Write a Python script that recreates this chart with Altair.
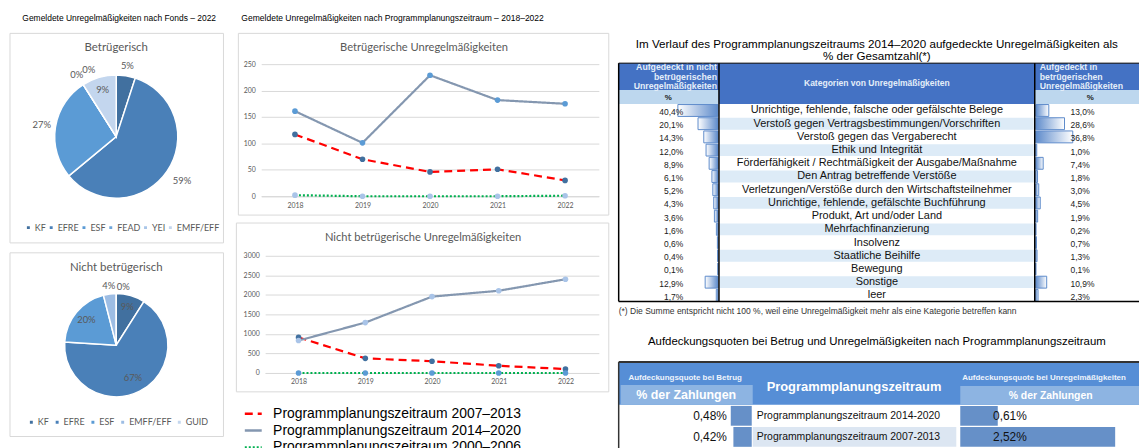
import altair as alt
import pandas as pd

# ---------------- data ----------------
fonds_betrug = ["KF", "EFRE", "ESF", "FEAD", "YEI", "EMFF/EFF"]
anteil_betrug = [5, 59, 27, 0, 0, 9]
fonds_nicht = ["KF", "EFRE", "ESF", "EMFF/EFF", "GUID"]
anteil_nicht = [9, 67, 20, 4, 0]

jahre = ["2018", "2019", "2020", "2021", "2022"]
zeitraum_namen = ["Programmplanungszeitraum 2007–2013",
                  "Programmplanungszeitraum 2014–2020",
                  "Programmplanungszeitraum 2000–2006"]
betrug_2007_2013 = [117, 70, 46, 51, 30]
betrug_2014_2020 = [161, 101, 229, 182, 175]
betrug_2000_2006 = [2, 0, 0, 0, 1]
nicht_2007_2013 = [910, 375, 300, 185, 100]
nicht_2014_2020 = [830, 1290, 1955, 2105, 2400]
nicht_2000_2006 = [0, 0, 0, 0, 0]
ticks_betrug = [0, 50, 100, 150, 200, 250]
ticks_nicht = [0, 500, 1000, 1500, 2000, 2500, 3000]

kategorien = [
    "Unrichtige, fehlende, falsche oder gefälschte Belege",
    "Verstoß gegen Vertragsbestimmungen/Vorschriften",
    "Verstoß gegen das Vergaberecht",
    "Ethik und Integrität",
    "Förderfähigkeit / Rechtmäßigkeit der Ausgabe/Maßnahme",
    "Den Antrag betreffende Verstöße",
    "Verletzungen/Verstöße durch den Wirtschaftsteilnehmer",
    "Unrichtige, fehlende, gefälschte Buchführung",
    "Produkt, Art und/oder Land",
    "Mehrfachfinanzierung",
    "Insolvenz",
    "Staatliche Beihilfe",
    "Bewegung",
    "Sonstige",
    "leer",
]
anteil_nicht_betr = [40.4, 20.1, 14.3, 12.0, 8.9, 6.1, 5.2, 4.3, 3.6, 1.6, 0.6, 0.4, 0.1, 12.9, 1.7]
anteil_betr = [13.0, 28.6, 36.8, 1.0, 7.4, 1.8, 3.0, 4.5, 1.9, 0.2, 0.7, 1.3, 0.1, 10.9, 2.3]

zeitraeume = ["Programmplanungszeitraum 2014-2020", "Programmplanungszeitraum 2007-2013"]
quote_betrug = [0.48, 0.42]
quote_unregel = [0.61, 2.52]

# ---------------- layout helpers ----------------
W, H = 1139, 440
ARIAL = "Liberation Sans"
LATO = "Lato"
GREY = "#595959"


def X(p):
    return p - 8


def Y(p):
    return p - 8


one = pd.DataFrame({"k": [0]})


def de_pct(v, d):
    return f"{v:.{d}f}".replace(".", ",") + "%"


def txt(s, x, y, size, color="black", font=ARIAL, weight="normal", align="center",
        baseline="middle", lh=None):
    kw = dict(fontSize=size, color=color, font=font, fontWeight=weight, align=align,
              baseline=baseline)
    if lh:
        kw.update(lineBreak="\n", lineHeight=lh)
    return alt.Chart(pd.DataFrame({"t": [s]})).mark_text(**kw).encode(
        text="t:N", x=alt.value(X(x)), y=alt.value(Y(y)))


def rect(x0, y0, x1, y1, fill="transparent", stroke="transparent", sw=1):
    return alt.Chart(one).mark_rect(fill=fill, stroke=stroke, strokeWidth=sw).encode(
        x=alt.value(X(x0)), x2=alt.value(X(x1)), y=alt.value(Y(y0)), y2=alt.value(Y(y1)))


def rule(x0, y0, x1, y1, color="black", sw=1):
    return alt.Chart(one).mark_rule(color=color, strokeWidth=sw).encode(
        x=alt.value(X(x0)), x2=alt.value(X(x1)), y=alt.value(Y(y0)), y2=alt.value(Y(y1)))


layers = []

# ---------------- pies ----------------
def pie(names, values, colors, cx, cy, r, lx, ly, colpad, label_specs):
    df = pd.DataFrame({"fonds": names, "anteil": values, "idx": list(range(len(names)))})
    df["label"] = [f"{v}%" for v in values]
    base = alt.Chart(df).encode(
        theta=alt.Theta("anteil:Q", stack=True),
        order=alt.Order("idx:Q"),
        x=alt.value(X(cx)), y=alt.value(Y(cy)),
    )
    arc = base.mark_arc(outerRadius=r, stroke="white", strokeWidth=1.5).encode(
        color=alt.Color("fonds:N", scale=alt.Scale(domain=names, range=colors),
                        legend=alt.Legend(orient="none", legendX=X(lx), legendY=Y(ly),
                                          direction="horizontal", title=None,
                                          symbolType="square", symbolSize=20,
                                          labelFontSize=9, labelFont=LATO,
                                          labelColor=GREY, columnPadding=colpad,
                                          labelOffset=2, padding=0)))
    out = [arc]
    for name, rad, dx, dy in label_specs:
        out.append(base.mark_text(radius=rad, dx=dx, dy=dy, fontSize=9.5, font=LATO,
                                  color=GREY).encode(
            text=alt.condition(alt.datum.fonds == name, "label:N", alt.value(""))))
    return out


layers += [rect(10, 32, 225, 243, stroke="#d9d9d9"),
           rect(10, 253, 225, 438, stroke="#d9d9d9")]
layers += pie(fonds_betrug, anteil_betrug,
              ["#41709F", "#4A80B8", "#5B9BD5", "#6FA6DA", "#A9C6E8", "#C3D6EE"],
              117, 136, 62, 24, 223, -3,
              [("KF", 72, 0, 0), ("EFRE", 80, 0, 0), ("ESF", 76, 0, 0),
               ("EMFF/EFF", 49, 0, 0), ("FEAD", 74, 0, 0), ("YEI", 74, 12, -5)])
layers += pie(fonds_nicht, anteil_nicht,
              ["#41709F", "#4A80B8", "#5B9BD5", "#9DBDE4", "#C3D6EE"],
              117, 346, 52, 27, 419, 2,
              [("KF", 40, 0, 0), ("EFRE", 37, 0, 0), ("ESF", 39, 0, 0),
               ("EMFF/EFF", 60, 0, 0), ("GUID", 59, 7, 0)])
layers += [
    txt("Gemeldete Unregelmäßigkeiten nach Fonds – 2022", 120, 17, 8.5),
    txt("Betrügerisch", 117, 47, 11.5, color=GREY, font=LATO),
    txt("Nicht betrügerisch", 117, 268, 11.5, color=GREY, font=LATO),
]

# ---------------- line charts ----------------
line_colors = ["#FF0000", "#8497B0", "#00B050"]
line_dashes = [[8, 5], [1, 0], [2, 2]]


def line_chart(series, marker_colors, x0, x1, y_zero, y_top, ymax, ticks, legend):
    rows = []
    for name, vals in zip(zeitraum_namen, series):
        for j, v in zip(jahre, vals):
            rows.append({"jahr": j, "zeitraum": name, "wert": v})
    df = pd.DataFrame(rows)
    xs = alt.Scale(domain=jahre, range=[X(x0), X(x1)], padding=0.5)
    ys = alt.Scale(domain=[0, ymax], range=[Y(y_zero), Y(y_top)], nice=False)
    x_ax = alt.X("jahr:O", scale=xs, axis=alt.Axis(
        orient="bottom", offset=Y(y_zero) - H, labelAngle=0, ticks=False,
        domainColor="#d9d9d9", labelFontSize=7, labelColor=GREY, labelFont=LATO,
        labelPadding=5, title=None, grid=False))
    y_ax = alt.Y("wert:Q", scale=ys, axis=alt.Axis(
        orient="left", offset=-X(x0), values=ticks, format="d", grid=True,
        gridColor="#d9d9d9", domain=False, ticks=False, labelFontSize=7, labelColor=GREY,
        labelFont=LATO, labelPadding=6, title=None))
    leg = None
    if legend:
        leg = alt.Legend(orient="none", legendX=X(245), legendY=Y(405), direction="vertical",
                         title=None, symbolType="stroke", symbolSize=290,
                         symbolStrokeWidth=2.5, labelFontSize=14, labelFont=ARIAL,
                         labelColor="black", labelOffset=10, rowPadding=0, padding=0,
                         labelLimit=500)
    lines = alt.Chart(df).mark_line(strokeWidth=2.2).encode(
        x=x_ax, y=y_ax,
        color=alt.Color("zeitraum:N", scale=alt.Scale(domain=zeitraum_namen, range=line_colors),
                        legend=leg),
        strokeDash=alt.StrokeDash("zeitraum:N",
                                  scale=alt.Scale(domain=zeitraum_namen, range=line_dashes),
                                  legend=leg),
    )
    pts = alt.Chart(df).mark_circle(size=32, opacity=1).encode(
        x=alt.X("jahr:O", scale=xs, axis=None),
        y=alt.Y("wert:Q", scale=ys, axis=None),
        fill=alt.Fill("zeitraum:N", scale=alt.Scale(domain=zeitraum_namen, range=marker_colors),
                      legend=None),
    )
    return [lines, pts]


layers += [rect(240, 32, 613, 215, stroke="#d9d9d9"),
           rect(238, 223, 613, 393, stroke="#d9d9d9")]
layers += line_chart([betrug_2007_2013, betrug_2014_2020, betrug_2000_2006],
                     ["#41709F", "#5B9BD5", "#A9C4E8"],
                     263, 603, 196, 63, 250, ticks_betrug, False)
layers += line_chart([nicht_2007_2013, nicht_2014_2020, nicht_2000_2006],
                     ["#41709F", "#A9C4E8", "#5B9BD5"],
                     267, 603, 374, 256, 3000, ticks_nicht, True)
layers += [
    txt("Gemeldete Unregelmäßigkeiten nach Programmplanungszeitraum – 2018–2022", 243, 17, 8.6,
        align="left"),
    txt("Betrügerische Unregelmäßigkeiten", 427, 47, 11.2, color=GREY, font=LATO),
    txt("Nicht betrügerische Unregelmäßigkeiten", 426, 238, 11.2, color=GREY, font=LATO),
]

# ---------------- table 1 ----------------
df1 = pd.DataFrame({"kategorie": kategorien, "nicht": anteil_nicht_betr, "betr": anteil_betr,
                    "nr": list(range(len(kategorien)))})
df1["nicht_txt"] = [de_pct(v, 1) for v in anteil_nicht_betr]
df1["betr_txt"] = [de_pct(v, 1) for v in anteil_betr]


def y1():
    return alt.Y("kategorie:N", sort=kategorien,
                 scale=alt.Scale(domain=kategorien, range=[Y(103), Y(302.5)],
                                 paddingInner=0.1, paddingOuter=0.05), axis=None)


grad_left = alt.LinearGradient(gradient="linear", x1=0, x2=1, y1=0, y2=0, stops=[
    alt.GradientStop(color="#FFFFFF", offset=0), alt.GradientStop(color="#5E8BCB", offset=1)])
grad_right = alt.LinearGradient(gradient="linear", x1=0, x2=1, y1=0, y2=0, stops=[
    alt.GradientStop(color="#5E8BCB", offset=0), alt.GradientStop(color="#FFFFFF", offset=1)])

layers += [
    txt("Im Verlauf des Programmplanungszeitraums 2014–2020 aufgedeckte Unregelmäßigkeiten als",
        883, 42.5, 11.7),
    txt("% der Gesamtzahl(*)", 883, 55, 11.7),
    rect(623, 62, 1150, 89, fill="#4472C4"),
    rect(724, 89, 1042, 103, fill="#4472C4"),
    rect(623, 89, 724, 103, fill="#BDD7EE"),
    rect(1042, 89, 1150, 103, fill="#BDD7EE"),
    txt("Aufgedeckt in nicht\nbetrügerischen\nUnregelmäßigkeiten", 722, 61.5, 8.8,
        color="#E4EEF9", weight="bold", align="right", baseline="top", lh=10),
    txt("Aufgedeckt in\nbetrügerischen\nUnregelmäßigkeiten", 1047, 61.5, 8.8,
        color="#E4EEF9", weight="bold", align="left", baseline="top", lh=10),
    txt("Kategorien von Unregelmäßigkeiten", 883, 82, 8.6, color="#E4EEF9", weight="bold"),
    txt("%", 673, 97, 8, color="#1a1a1a", weight="bold"),
    txt("%", 1098, 97, 8, color="#1a1a1a", weight="bold"),
    alt.Chart(df1).mark_rect().encode(
        y=y1(), x=alt.value(X(725)), x2=alt.value(X(1041)),
        fill=alt.condition("datum.nr % 2 == 1", alt.value("#DDEBF7"), alt.value("#FFFFFF"))),
    alt.Chart(df1).mark_bar(fill=grad_left, stroke="#5E8BCB", strokeWidth=1).encode(
        y=y1(), x=alt.X("nicht:Q", scale=alt.Scale(domain=[0, 41], range=[X(723), X(682)],
                                                  nice=False), axis=None)),
    alt.Chart(df1).mark_bar(fill=grad_right, stroke="#5E8BCB", strokeWidth=1).encode(
        y=y1(), x=alt.X("betr:Q", scale=alt.Scale(domain=[0, 37.5], range=[X(1043), X(1081)],
                                                 nice=False), axis=None)),
    alt.Chart(df1).mark_text(align="right", fontSize=8.5, font=ARIAL, color="#1a1a1a",
                             dy=1.5).encode(y=y1(), x=alt.value(X(688)), text="nicht_txt:N"),
    alt.Chart(df1).mark_text(align="left", fontSize=8.5, font=ARIAL, color="#1a1a1a",
                             dy=1.5).encode(y=y1(), x=alt.value(X(1078)), text="betr_txt:N"),
    alt.Chart(df1).mark_text(align="center", fontSize=11, font=ARIAL, color="#111111").encode(
        y=y1(), x=alt.value(X(883)), text="kategorie:N"),
    rule(623, 62, 623, 302, sw=1.5),
    rule(724, 62, 724, 302, sw=1.5),
    rule(1042, 62, 1042, 302, sw=1.5),
    rule(623, 302, 1150, 302, sw=1.5),
    rule(623, 62, 1150, 62, sw=1),
    txt("(*) Die Summe entspricht nicht 100 %, weil eine Unregelmäßigkeit mehr als eine "
        "Kategorie betreffen kann", 623, 312, 8.6, color="#333333", align="left"),
]

# ---------------- table 2 ----------------
df2 = pd.DataFrame({"zeitraum": zeitraeume, "betrug": quote_betrug, "unregel": quote_unregel,
                    "nr": list(range(len(zeitraeume)))})
df2["betrug_txt"] = [de_pct(v, 2) for v in quote_betrug]
df2["unregel_txt"] = [de_pct(v, 2) for v in quote_unregel]


def y2():
    return alt.Y("zeitraum:N", sort=zeitraeume,
                 scale=alt.Scale(domain=zeitraeume, range=[Y(406.5), Y(449)],
                                 paddingInner=0.06, paddingOuter=0.03), axis=None)


layers += [
    txt("Aufdeckungsquoten bei Betrug und Unregelmäßigkeiten nach Programmplanungszeitraum",
        883, 343, 11.5),
    rect(623, 364, 1150, 406, fill="#568ED6"),
    rect(625, 386, 758, 406, fill="#8DB4E2"),
    rect(967, 387, 1150, 406, fill="#8DB4E2"),
    txt("Aufdeckungsquote bei Betrug", 690, 379, 8, color="#EEF4FC", weight="bold"),
    txt("% der Zahlungen", 691, 396, 12.5, color="#FFFFFF", weight="bold"),
    txt("Programmplanungszeitraum", 860, 388, 13, color="#FFFFFF", weight="bold"),
    txt("Aufdeckungsquote bei Unregelmäßigkeiten", 969, 379, 8, color="#EEF4FC",
        weight="bold", align="left"),
    txt("% der Zahlungen", 1058, 397, 10.5, color="#FFFFFF", weight="bold"),
    alt.Chart(df2).mark_rect().encode(
        y=y2(), x=alt.value(X(758)), x2=alt.value(X(963)),
        fill=alt.condition("datum.nr % 2 == 1", alt.value("#DCE6F2"), alt.value("#FFFFFF"))),
    alt.Chart(df2).mark_bar(color="#6690C8").encode(
        y=y2(), x=alt.X("betrug:Q", scale=alt.Scale(domain=[0, 0.5], range=[X(757), X(735)],
                                                   nice=False), axis=None)),
    alt.Chart(df2).mark_bar(color="#6690C8").encode(
        y=y2(), x=alt.X("unregel:Q", scale=alt.Scale(domain=[0, 2.52], range=[X(967), X(1123)],
                                                    nice=False), axis=None)),
    alt.Chart(df2).mark_text(align="right", fontSize=12, font=ARIAL, color="#111111").encode(
        y=y2(), x=alt.value(X(732)), text="betrug_txt:N"),
    alt.Chart(df2).mark_text(align="left", fontSize=12, font=ARIAL, color="#111111").encode(
        y=y2(), x=alt.value(X(1000)), text="unregel_txt:N"),
    alt.Chart(df2).mark_text(align="left", fontSize=10.5, font=ARIAL, color="#111111").encode(
        y=y2(), x=alt.value(X(762)), text="zeitraum:N"),
    rule(623, 363, 1150, 363, color="#333333", sw=2),
    rule(623, 363, 623, 450, color="#333333", sw=1.5),
]

chart = alt.layer(*layers).resolve_scale(
    x="independent", y="independent", color="independent", fill="independent",
    strokeDash="independent", theta="independent"
).resolve_axis(x="independent", y="independent").resolve_legend(
    color="independent", fill="independent", strokeDash="independent"
).properties(
    width=W, height=H, padding=0, autosize=alt.AutoSizeParams(type="none"),
    background="white"
).configure_view(stroke=None)

chart.save("out.html", embed_options={"renderer": "svg", "actions": False})
